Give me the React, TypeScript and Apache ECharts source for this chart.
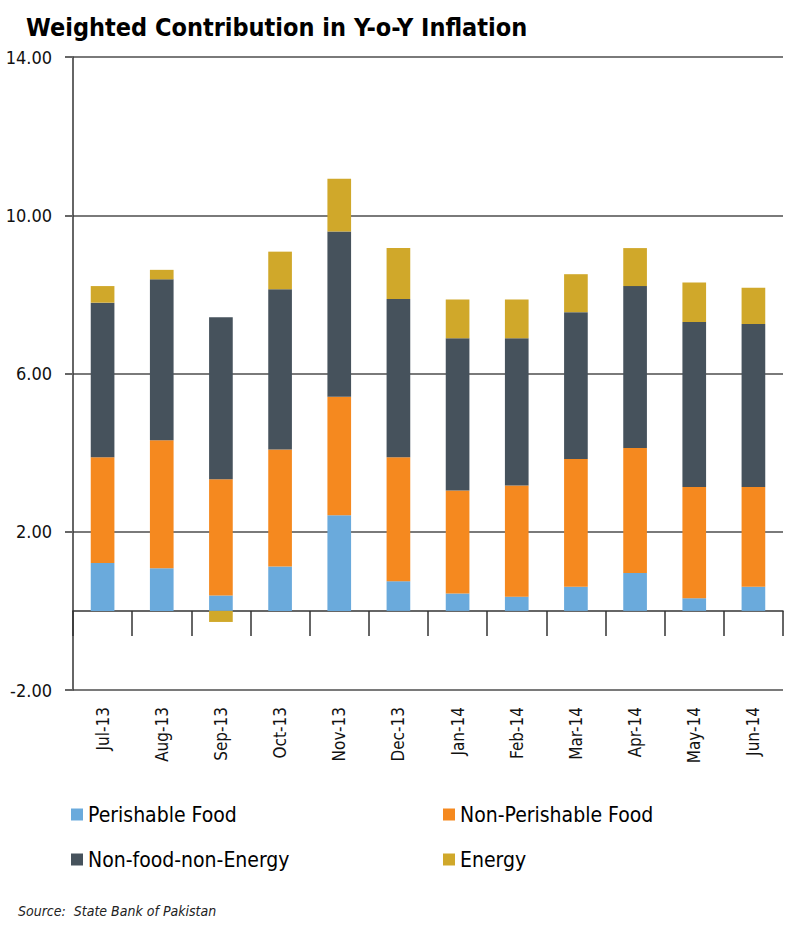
import React, { useEffect, useRef } from "react";
import * as echarts from "echarts";

const months = ["Jul-13", "Aug-13", "Sep-13", "Oct-13", "Nov-13", "Dec-13", "Jan-14", "Feb-14", "Mar-14", "Apr-14", "May-14", "Jun-14"];
const perishableFood = [1.21, 1.08, 0.39, 1.12, 2.42, 0.75, 0.44, 0.36, 0.61, 0.96, 0.32, 0.61];
const nonPerishableFood = [2.67, 3.23, 2.94, 2.96, 2.99, 3.13, 2.60, 2.81, 3.23, 3.16, 2.81, 2.52];
const nonFoodNonEnergy = [3.91, 4.07, 4.09, 4.05, 4.18, 4.00, 3.85, 3.72, 3.71, 4.09, 4.17, 4.12];
const energy = [0.42, 0.24, -0.28, 0.95, 1.33, 1.29, 0.98, 0.98, 0.96, 0.96, 1.00, 0.92];
const yTicks = [-2, 2, 6, 10, 14];

const FONT = "'DejaVu Sans Condensed', 'Liberation Sans', sans-serif";

export default function App() {
  const ref = useRef<HTMLDivElement>(null);
  useEffect(() => {
    if (!ref.current) return;
    const chart = echarts.init(ref.current, null, { renderer: "svg" });
    const mk = (name: string, data: number[], color: string) => ({
      name,
      type: "bar",
      stack: "total",
      data,
      barWidth: "40%",
      itemStyle: { color },
    });
    chart.setOption({
      animation: false,
      backgroundColor: "#ffffff",
      textStyle: { fontFamily: FONT },
      title: {
        text: "Weighted Contribution in Y-o-Y Inflation",
        left: 21,
        top: 10,
        textStyle: { fontFamily: FONT, fontWeight: "bold", fontSize: 25, color: "#000" },
      },
      grid: { left: 73, right: 17, top: 57, bottom: 243, containLabel: false },
      xAxis: {
        type: "category",
        data: months,
        axisLine: { onZero: true, lineStyle: { color: "#333", width: 1.5 } },
        axisTick: { show: true, interval: 0, length: 25, lineStyle: { color: "#333", width: 1.5 } },
        axisLabel: { rotate: 90, margin: 17, interval: 0, fontFamily: FONT, fontSize: 17, color: "#111" },
      },
      yAxis: {
        type: "value",
        min: -2,
        max: 14,
        axisLine: { show: true, lineStyle: { color: "#333", width: 1.5 } },
        axisTick: { show: true, length: 8, customValues: yTicks, lineStyle: { color: "#666", width: 2 } },
        axisLabel: {
          customValues: yTicks,
          margin: 21,
          fontFamily: FONT,
          fontSize: 18,
          color: "#111",
          formatter: (v: number) => v.toFixed(2),
        },
        splitLine: { show: true, lineStyle: { color: "#7a7a7a", width: 2 } },
      },
      legend: [
        {
          data: ["Perishable Food", "Non-food-non-Energy"],
          orient: "vertical",
          left: 66,
          top: 799,
          itemWidth: 12,
          itemHeight: 12,
          itemGap: 24,
          icon: "rect",
          textStyle: { fontFamily: FONT, fontSize: 21, color: "#000" },
        },
        {
          data: ["Non-Perishable Food", "Energy"],
          orient: "vertical",
          left: 438,
          top: 799,
          itemWidth: 12,
          itemHeight: 12,
          itemGap: 24,
          icon: "rect",
          textStyle: { fontFamily: FONT, fontSize: 21, color: "#000" },
        },
      ],
      graphic: [
        {
          type: "text",
          left: 18,
          top: 904,
          style: { text: "Source:  State Bank of Pakistan", font: `italic 14px ${FONT}`, fill: "#222" },
        },
      ],
      series: [
        mk("Perishable Food", perishableFood, "#6aaadc"),
        mk("Non-Perishable Food", nonPerishableFood, "#f5891f"),
        mk("Non-food-non-Energy", nonFoodNonEnergy, "#46525c"),
        mk("Energy", energy, "#d0a82a"),
      ],
    });
    return () => chart.dispose();
  }, []);
  return <div ref={ref} style={{ position: "absolute", left: 0, top: 0, width: 800, height: 933 }} />;
}
